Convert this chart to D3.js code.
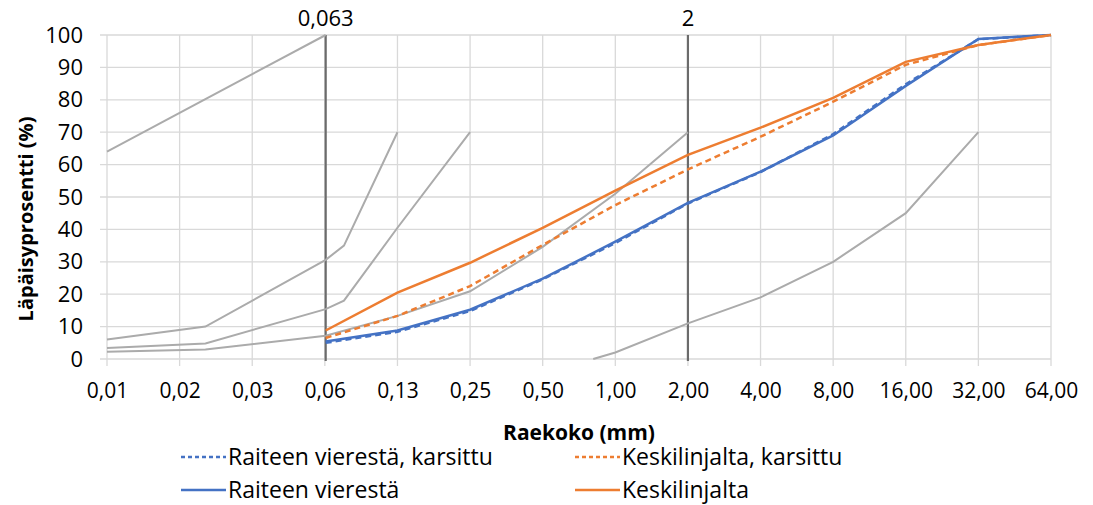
<!DOCTYPE html>
<html><head><meta charset="utf-8">
<script src="https://cdn.jsdelivr.net/npm/d3@7"></script>
<style>body{margin:0;background:#fff}svg{display:block}text{font-family:"Open Sans","Liberation Sans",sans-serif;fill:#000}</style>
</head><body><svg id="c" width="1093" height="505"></svg>
<script>
// Tick categories (log2 scale positions) and labels
const tickValues = [0.0078125,0.015625,0.03125,0.0625,0.125,0.25,0.5,1,2,4,8,16,32,64];
const tickLabels = ["0,01","0,02","0,03","0,06","0,13","0,25","0,50","1,00","2,00","4,00","8,00","16,00","32,00","64,00"];
const yTicks = [0,10,20,30,40,50,60,70,80,90,100];
// Sieve sizes of the measured samples
const sieves = [0.063,0.125,0.25,0.5,1,2,4,8,16,32,64];
const raiteenKarsittu = [5.0,8.4,14.8,24.6,35.8,48.0,57.7,69.4,84.8,98.7,100];
const keskiKarsittu   = [6.5,13.3,22.5,35.2,47.5,58.5,68.6,79.4,90.8,96.9,100];
const raiteen         = [5.4,8.8,15.2,24.8,36.2,48.2,57.8,69.0,84.3,98.8,100];
const keski           = [8.8,20.5,29.7,40.5,52.0,63.0,71.4,80.6,91.7,96.9,100];
// Grey limit curves: [size, passing %]
const limit1 = [[0.0078125,64],[0.063,100]];
const limit2 = [[0.0078125,6],[0.02,10],[0.063,30.6],[0.075,35],[0.125,70]];
const limit3 = [[0.0078125,3.4],[0.02,4.8],[0.063,15.4],[0.075,18],[0.125,40.5],[0.25,70]];
const limit4 = [[0.0078125,2.2],[0.02,2.9],[0.063,7.2],[0.125,13.3],[0.25,20.9],[0.5,34.6],[1,51],[2,70]];
const limit5 = [[0.81,0],[1,2],[2,11],[4,19],[8,30],[16,45],[32,70]];
const refLines = [0.063, 2];
const refLabels = ["0,063","2"];

const svg = d3.select("#c");
const L=107,R=1051,T=35,B=359;
const x = d3.scaleLog().base(2).domain([tickValues[0], tickValues[tickValues.length-1]]).range([L,R]);
const y = d3.scaleLinear().domain([0,100]).range([B,T]);

// gridlines
svg.append("g").selectAll("line").data(yTicks).join("line")
  .attr("x1",L-7).attr("x2",R).attr("y1",d=>y(d)).attr("y2",d=>y(d))
  .attr("stroke","#d9d9d9").attr("stroke-width",1.3);
svg.append("g").selectAll("line").data(tickValues).join("line")
  .attr("x1",d=>x(d)).attr("x2",d=>x(d)).attr("y1",T).attr("y2",B+7)
  .attr("stroke","#d9d9d9").attr("stroke-width",1.3);

// axes labels
const yAxis = d3.axisLeft(y).tickValues(yTicks).tickSize(0).tickPadding(24);
const ga = svg.append("g").attr("transform",`translate(${L},0)`).call(yAxis);
ga.select(".domain").remove();
ga.selectAll("text").attr("font-size",22).attr("font-family","Open Sans");
const xAxis = d3.axisBottom(x).tickValues(tickValues).tickFormat((d,i)=>tickLabels[i]).tickSize(0).tickPadding(24);
const gx = svg.append("g").attr("transform",`translate(0,${B})`).call(xAxis);
gx.select(".domain").remove();
gx.selectAll("text").attr("font-size",21).attr("font-family","Open Sans");

// reference vertical lines
svg.append("g").selectAll("line").data(refLines).join("line")
  .attr("x1",d=>x(d)).attr("x2",d=>x(d)).attr("y1",T).attr("y2",B+2)
  .attr("stroke","#6b6b6b").attr("stroke-width",2.2);
svg.append("g").selectAll("text").data(refLines).join("text")
  .attr("x",d=>x(d)).attr("y",26).attr("text-anchor","middle").attr("font-size",22)
  .text((d,i)=>refLabels[i]);

const line = d3.line().x(d=>x(d[0])).y(d=>y(d[1]));
[limit1,limit2,limit3,limit4,limit5].forEach(c=>{
  svg.append("path").attr("d",line(c)).attr("fill","none").attr("stroke","#ababab").attr("stroke-width",2);
});
const series = [
  {name:"Raiteen vierestä, karsittu", v:raiteenKarsittu, c:"#4472C4", dash:"6,4"},
  {name:"Keskilinjalta, karsittu", v:keskiKarsittu, c:"#ED7D31", dash:"6,4"},
  {name:"Raiteen vierestä", v:raiteen, c:"#4472C4", dash:null},
  {name:"Keskilinjalta", v:keski, c:"#ED7D31", dash:null}
];
series.forEach(s=>{
  svg.append("path").attr("d",line(sieves.map((d,i)=>[d,s.v[i]])))
    .attr("fill","none").attr("stroke",s.c).attr("stroke-width",2.5)
    .attr("stroke-dasharray",s.dash);
});

// axis titles
svg.append("text").attr("x",(L+R)/2).attr("y",440).attr("text-anchor","middle")
  .attr("font-size",21).attr("font-weight","bold").text("Raekoko (mm)");
svg.append("text").attr("transform",`translate(33,219) rotate(-90)`).attr("text-anchor","middle")
  .attr("font-size",20).attr("font-weight","bold").text("Läpäisyprosentti (%)");

// legend
const legPos = [[181,457],[575,457],[181,490],[575,490]];
series.forEach((s,i)=>{
  const [lx,ly]=legPos[i];
  svg.append("line").attr("x1",lx).attr("x2",lx+45).attr("y1",ly).attr("y2",ly)
    .attr("stroke",s.c).attr("stroke-width",2.5).attr("stroke-dasharray",s.dash?"4,3":null);
  svg.append("text").attr("x",lx+47).attr("y",ly+8).attr("font-size",23).text(s.name);
});
</script></body></html>
